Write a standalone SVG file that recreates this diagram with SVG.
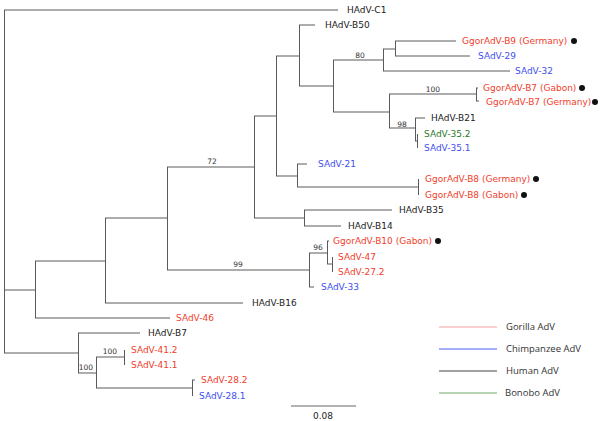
<svg xmlns="http://www.w3.org/2000/svg" width="600" height="421" viewBox="0 0 600 421">
<style>
.e{stroke:#5a5a5a;stroke-width:1;fill:none}
.t{font-family:"DejaVu Sans",sans-serif;font-size:9px}
.h{fill:#222}
.r{fill:#f0402c}
.b{fill:#3d4ff0}
.g{fill:#2b7a2b}
.bs{font-family:"DejaVu Sans",sans-serif;font-size:7.5px;fill:#333;text-anchor:middle}
.lg{font-family:"Open Sans",sans-serif;font-size:9.5px;fill:#333}
.dot{fill:#111}
</style>
<rect width="600" height="421" fill="#fff"/>
<g id="connectors" class="e">
<path d="M4.5,10V353M4,10H338M4,290H35M4,353H78"/>
<path d="M35.5,261V318M35,261H105M35,318H170"/>
<path d="M105.5,218V303M105,218H167M105,303H243"/>
<path d="M167.5,167V270M167,167H254M167,270H309"/>
<path d="M254.5,116V218M254,116H276M254,218H304"/>
<path d="M304.5,210V226M304,210H392M304,226H341"/>
<path d="M276.5,56V176M276,56H299M276,176H297"/>
<path d="M299.5,25V86M299,25H315M299,86H333"/>
<path d="M333.5,60V112M333,60H383M333,112H389"/>
<path d="M383.5,49V71M383,49H395M383,71H510"/>
<path d="M395.5,41V56M395,41H456M395,56H470"/>
<path d="M389.5,94V128M389,94H476M389,128H415"/>
<path d="M476.5,88V101M476,88H478M476,101H479"/>
<path d="M415.5,118V141M415,118H425M415,141H417"/>
<path d="M417.5,134V148"/>
<path d="M297.5,164V187M297,164H307M297,187H418"/>
<path d="M418.5,179V195"/>
<path d="M309.5,253V287M309,253H327M309,287H314"/>
<path d="M327.5,241V264M327,241H329M327,264H332"/>
<path d="M332.5,257V272"/>
<path d="M78.5,333V373M78,333H140M78,373H96"/>
<path d="M96.5,357V388M96,357H124M96,388H192"/>
<path d="M124.5,350V365"/>
<path d="M192.5,380V396M192,380H195"/>
</g>
<g id="bootstrap">
<text class="bs" x="212" y="164">72</text>
<text class="bs" x="238" y="267">99</text>
<text class="bs" x="360" y="58">80</text>
<text class="bs" x="433" y="92">100</text>
<text class="bs" x="402" y="127">98</text>
<text class="bs" x="318" y="250">96</text>
<text class="bs" x="86" y="370">100</text>
<text class="bs" x="110" y="354">100</text>
</g>
<g id="HAdV-C1"><text class="t h" x="347" y="13">HAdV-C1</text></g>
<g id="HAdV-B50"><text class="t h" x="325" y="28">HAdV-B50</text></g>
<g id="GgorAdV-B9-Germany"><text class="t r" x="462" y="44">GgorAdV-B9 (Germany)</text><circle class="dot" cx="574" cy="41" r="3"/></g>
<g id="SAdV-29"><text class="t b" x="478" y="59">SAdV-29</text></g>
<g id="SAdV-32"><text class="t b" x="515" y="74">SAdV-32</text></g>
<g id="GgorAdV-B7-Gabon"><text class="t r" x="483" y="91">GgorAdV-B7 (Gabon)</text><circle class="dot" cx="582" cy="88" r="3"/></g>
<g id="GgorAdV-B7-Germany"><text class="t r" x="486" y="105">GgorAdV-B7 (Germany)</text><circle class="dot" cx="595" cy="102" r="3"/></g>
<g id="HAdV-B21"><text class="t h" x="431" y="121">HAdV-B21</text></g>
<g id="SAdV-35.2"><text class="t g" x="424" y="137">SAdV-35.2</text></g>
<g id="SAdV-35.1"><text class="t b" x="424" y="151">SAdV-35.1</text></g>
<g id="SAdV-21"><text class="t b" x="318" y="167">SAdV-21</text></g>
<g id="GgorAdV-B8-Germany"><text class="t r" x="425" y="182">GgorAdV-B8 (Germany)</text><circle class="dot" cx="536" cy="179" r="3"/></g>
<g id="GgorAdV-B8-Gabon"><text class="t r" x="425" y="198">GgorAdV-B8 (Gabon)</text><circle class="dot" cx="524" cy="195" r="3"/></g>
<g id="HAdV-B35"><text class="t h" x="399" y="213">HAdV-B35</text></g>
<g id="HAdV-B14"><text class="t h" x="348" y="229">HAdV-B14</text></g>
<g id="GgorAdV-B10-Gabon"><text class="t r" x="333" y="244">GgorAdV-B10 (Gabon)</text><circle class="dot" cx="438" cy="241" r="3"/></g>
<g id="SAdV-47"><text class="t r" x="338" y="260">SAdV-47</text></g>
<g id="SAdV-27.2"><text class="t r" x="338" y="275">SAdV-27.2</text></g>
<g id="SAdV-33"><text class="t b" x="321" y="290">SAdV-33</text></g>
<g id="HAdV-B16"><text class="t h" x="252" y="306">HAdV-B16</text></g>
<g id="SAdV-46"><text class="t r" x="176" y="321">SAdV-46</text></g>
<g id="HAdV-B7"><text class="t h" x="148" y="336">HAdV-B7</text></g>
<g id="SAdV-41.2"><text class="t r" x="131" y="353">SAdV-41.2</text></g>
<g id="SAdV-41.1"><text class="t r" x="131" y="368">SAdV-41.1</text></g>
<g id="SAdV-28.2"><text class="t r" x="201" y="383">SAdV-28.2</text></g>
<g id="SAdV-28.1"><text class="t b" x="199" y="399">SAdV-28.1</text></g>
<g id="scale-bar">
<path d="M291,406H356" stroke="#666" stroke-width="1"/>
<text class="t h" x="323" y="419" text-anchor="middle">0.08</text>
</g>
<g id="legend">
<path d="M439,327H497" stroke="#f4a0a0" stroke-width="1"/>
<path d="M439,349H497" stroke="#4f5ff0" stroke-width="1"/>
<path d="M439,371H497" stroke="#444" stroke-width="1"/>
<path d="M439,393H497" stroke="#6aaa6a" stroke-width="1"/>
<text class="lg" x="506" y="330">Gorilla AdV</text>
<text class="lg" x="506" y="352">Chimpanzee AdV</text>
<text class="lg" x="506" y="374">Human AdV</text>
<text class="lg" x="505" y="396">Bonobo AdV</text>
</g>
</svg>
